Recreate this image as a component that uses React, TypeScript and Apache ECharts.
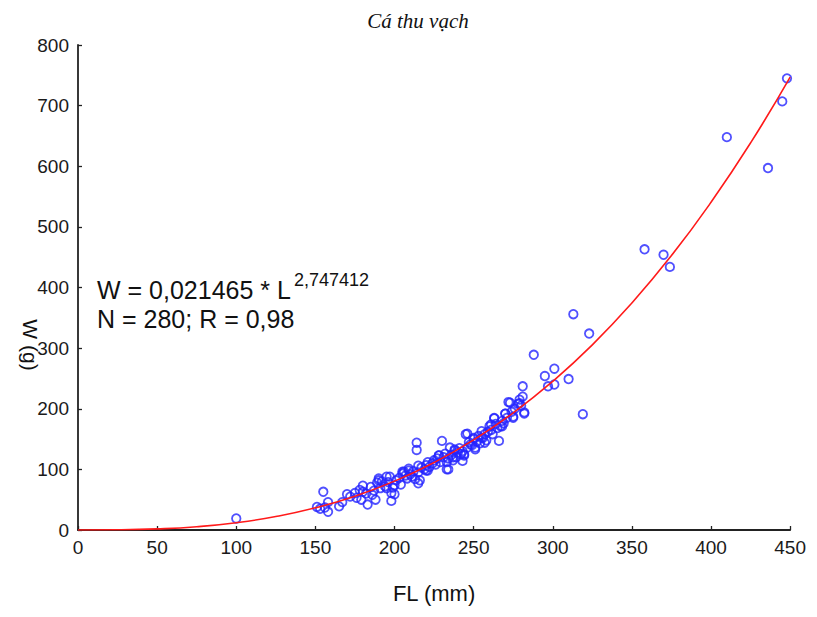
import React, { useEffect, useRef } from "react";
import * as echarts from "echarts";

const title = "Cá thu vạch";
const xName = "FL (mm)";
const yName = "W (g)";
const eqMain = "W = 0,021465 * L";
const eqExp = "2,747412";
const eqStats = "N = 280; R = 0,98";

const xTicks = { min: 0, max: 450, interval: 50 };
const yTicks = { min: 0, max: 800, interval: 100 };

// observed fish: fork length (mm) and weight (g)
const lengths = [
  100, 151, 153, 155, 156, 158, 158, 165, 167, 170, 172, 175, 176, 178, 179, 180, 180, 182, 183, 185,
  186, 187, 188, 189, 190, 190, 191, 192, 194, 195, 195, 196, 197, 198, 198, 199, 200, 200, 201, 203,
  204, 205, 205, 206, 207, 208, 209, 209, 210, 211, 212, 213, 214, 214, 215, 215, 215, 216, 217, 219,
  220, 220, 221, 221, 222, 224, 225, 226, 227, 228, 228, 229, 230, 231, 232, 233, 233, 234, 234, 235,
  236, 237, 237, 238, 238, 239, 240, 241, 242, 243, 243, 244, 244, 245, 246, 246, 247, 248, 249, 250,
  250, 251, 251, 252, 253, 254, 255, 255, 256, 257, 257, 258, 259, 260, 261, 261, 262, 263, 263, 264,
  265, 266, 267, 268, 268, 269, 270, 270, 271, 272, 273, 274, 275, 275, 276, 278, 279, 279, 280, 281,
  281, 282, 282, 288, 295, 297, 301, 301, 310, 313, 319, 323, 358, 370, 374, 410, 436, 445, 448,
];
const weights = [
  19, 38, 35, 63, 37, 46, 30, 39, 46, 59, 55, 61, 53, 66, 50, 73, 63, 60, 42, 71,
  58, 65, 50, 78, 85, 82, 69, 80, 72, 88, 69, 79, 88, 48, 61, 70, 59, 74, 82, 86,
  75, 96, 93, 96, 90, 85, 101, 98, 92, 88, 97, 84, 144, 132, 106, 77, 95, 82, 103, 100,
  107, 98, 112, 98, 104, 110, 115, 108, 118, 123, 123, 112, 147, 120, 126, 112, 100, 100, 118, 136,
  124, 115, 120, 131, 133, 120, 128, 135, 125, 130, 114, 123, 125, 158, 136, 159, 145, 141, 140, 150,
  152, 133, 136, 146, 155, 143, 163, 152, 152, 158, 144, 148, 162, 171, 165, 174, 158, 184, 185, 175,
  168, 147, 171, 180, 171, 176, 192, 192, 185, 211, 210, 195, 187, 185, 200, 208, 215, 209, 205, 237,
  220, 194, 192, 289, 254, 237, 266, 240, 249, 356, 191, 324, 463, 454, 434, 648, 597, 707, 745,
];

// fitted curve W = 0,021465 * L^2,747412
const curveL = [0, 25, 50, 75, 100, 125, 150, 175, 200, 225, 250, 275, 300, 325, 350, 375, 400, 425, 450];
const curveW = [0, 0.3, 1.8, 5.4, 12, 22.2, 36.6, 55.8, 80.6, 111.3, 148.7, 193.2, 245.3, 305.4, 374.4, 452.6, 540.6, 638.5, 747];

const AXIS_FONT = "'Liberation Sans', Arial, sans-serif";
const W = 801;
const H = 601;

export default function App() {
  const ref = useRef<HTMLDivElement>(null);
  useEffect(() => {
    if (!ref.current) return;
    const chart = echarts.init(ref.current, null, { renderer: "svg", width: W, height: H });
    const scatterData = lengths.map((l, i) => [l, weights[i]]);
    const curveData = curveL.map((l, i) => [l, curveW[i]]);
    chart.setOption({
      animation: false,
      backgroundColor: "#ffffff",
      grid: { left: 70, right: 9, top: 37, bottom: 68, containLabel: false },
      xAxis: {
        type: "value",
        min: xTicks.min,
        max: xTicks.max,
        interval: xTicks.interval,
        name: xName,
        nameLocation: "middle",
        nameGap: 52,
        nameTextStyle: { fontFamily: AXIS_FONT, fontSize: 22, color: "#111" },
        axisLine: { show: true, lineStyle: { color: "#222", width: 1.8 } },
        axisTick: { show: true, inside: true, length: 4, lineStyle: { color: "#222", width: 1.3 } },
        axisLabel: { fontFamily: AXIS_FONT, fontSize: 19, color: "#1a1a1a", margin: 8 },
        splitLine: { show: false },
      },
      yAxis: {
        type: "value",
        min: yTicks.min,
        max: yTicks.max,
        interval: yTicks.interval,
        axisLine: { show: true, lineStyle: { color: "#222", width: 1.8 } },
        axisTick: { show: true, inside: true, length: 4, lineStyle: { color: "#222", width: 1.3 } },
        axisLabel: { fontFamily: AXIS_FONT, fontSize: 19, color: "#1a1a1a", margin: 9 },
        splitLine: { show: false },
      },
      graphic: [
        {
          type: "text",
          x: 410,
          y: 13,
          style: {
            text: title,
            fontFamily: "'Liberation Serif', 'Times New Roman', serif",
            fontStyle: "italic",
            fontSize: 21,
            fill: "#111",
            align: "center",
            verticalAlign: "middle",
          },
        },
        {
          type: "text",
          x: 22,
          y: 337,
          rotation: -Math.PI / 2,
          style: {
            text: yName,
            fontFamily: AXIS_FONT,
            fontSize: 21,
            fill: "#111",
            align: "center",
            verticalAlign: "middle",
          },
        },
        {
          type: "text",
          x: 89,
          y: 282,
          style: {
            text: eqMain,
            fontFamily: AXIS_FONT,
            fontSize: 25,
            fill: "#111",
            align: "left",
            verticalAlign: "middle",
          },
        },
        {
          type: "text",
          x: 286,
          y: 272,
          style: {
            text: eqExp,
            fontFamily: AXIS_FONT,
            fontSize: 18,
            fill: "#111",
            align: "left",
            verticalAlign: "middle",
          },
        },
        {
          type: "text",
          x: 89,
          y: 311,
          style: {
            text: eqStats,
            fontFamily: AXIS_FONT,
            fontSize: 25,
            fill: "#111",
            align: "left",
            verticalAlign: "middle",
          },
        },
      ],
      series: [
        {
          type: "line",
          data: curveData,
          smooth: true,
          showSymbol: false,
          symbol: "none",
          lineStyle: { color: "#ff1a1a", width: 1.6 },
          z: 3,
        },
        {
          type: "scatter",
          data: scatterData,
          symbol: "circle",
          symbolSize: 8.5,
          itemStyle: { color: "rgba(0,0,0,0)", borderColor: "#2424ff", borderWidth: 1.8 },
          z: 2,
        },
      ],
    });
    return () => chart.dispose();
  }, []);
  return <div ref={ref} style={{ width: W, height: H }} />;
}
